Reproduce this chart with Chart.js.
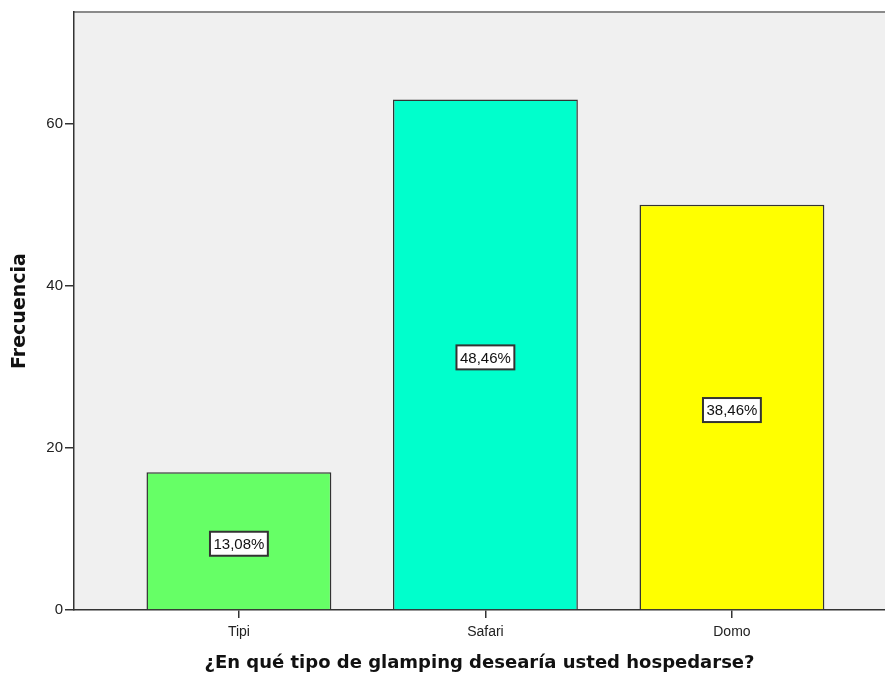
<!DOCTYPE html>
<html>
<head>
<meta charset="utf-8">
<script src="https://cdn.jsdelivr.net/npm/chart.js@4/dist/chart.umd.min.js"></script>
<style>
html,body{margin:0;padding:0;background:#fff;}
#wrap{width:885px;height:676px;}
</style>
</head>
<body>
<div id="wrap"><canvas id="c" width="885" height="676"></canvas></div>
<script>
const categories = ["Tipi", "Safari", "Domo"];
const values = [17, 63, 50];
const percentLabels = ["13,08%", "48,46%", "38,46%"];
const barColors = ["#66FF66", "#00FFCC", "#FFFF00"];
const yTicks = [0, 20, 40, 60];

const FONT = "'Liberation Sans', Arial, sans-serif";
const TITLE_FONT = "'DejaVu Sans', Verdana, sans-serif";

const bgPlugin = {
  id: 'bg',
  beforeDraw(chart) {
    const {ctx, chartArea: a} = chart;
    ctx.save();
    ctx.fillStyle = '#F0F0F0';
    ctx.fillRect(a.left, a.top, a.right - a.left, a.bottom - a.top);
    ctx.strokeStyle = '#8a8a8a';
    ctx.lineWidth = 2;
    ctx.beginPath();
    ctx.moveTo(a.left, a.top);
    ctx.lineTo(a.right, a.top);
    ctx.stroke();
    ctx.restore();
  }
};

const labelPlugin = {
  id: 'pctLabels',
  afterDatasetsDraw(chart) {
    const {ctx} = chart;
    const meta = chart.getDatasetMeta(0);
    ctx.save();
    ctx.font = "15px " + FONT;
    ctx.textAlign = 'center';
    ctx.textBaseline = 'middle';
    meta.data.forEach((bar, i) => {
      const txt = percentLabels[i];
      const cx = bar.x;
      const cy = (bar.y + bar.base) / 2 + 3;
      const w = ctx.measureText(txt).width + 7;
      const h = 24;
      ctx.fillStyle = '#ffffff';
      ctx.fillRect(cx - w / 2, cy - h / 2, w, h);
      ctx.strokeStyle = '#333';
      ctx.lineWidth = 2;
      ctx.strokeRect(cx - w / 2, cy - h / 2, w, h);
      ctx.fillStyle = '#111';
      ctx.fillText(txt, cx, cy + 1);
    });
    ctx.restore();
  }
};

new Chart(document.getElementById('c'), {
  type: 'bar',
  data: {
    datasets: [{
      data: values.map((v, i) => ({x: i, y: v})),
      backgroundColor: barColors,
      borderColor: '#333',
      borderWidth: 1.5,
      borderSkipped: 'bottom',
      barPercentage: 0.75,
      categoryPercentage: 1.0
    }]
  },
  options: {
    responsive: false,
    animation: false,
    devicePixelRatio: 1,
    layout: {padding: {top: 12, right: 0, left: 0, bottom: 0}},
    plugins: {legend: {display: false}, tooltip: {enabled: false}},
    scales: {
      x: {
        type: 'linear',
        offset: false,
        min: -0.669,
        max: 2.621,
        afterBuildTicks(scale) { scale.ticks = categories.map((c, i) => ({value: i})); },
        afterFit(scale) { scale.height = 66; },
        ticks: {
          callback: (v) => categories[v] ?? '',
          color: '#222',
          font: {family: FONT, size: 14},
          padding: 6,
          maxRotation: 0
        },
        grid: {offset: false, drawOnChartArea: false, drawTicks: true, tickLength: 8, color: '#333', lineWidth: 1.5},
        border: {display: true, color: '#333', width: 1.5},
        title: {
          display: true,
          text: '¿En qué tipo de glamping desearía usted hospedarse?',
          color: '#111',
          font: {family: TITLE_FONT, size: 18, weight: 'bold'},
          padding: {top: 6, bottom: 2}
        }
      },
      y: {
        min: 0,
        max: 73.8,
        afterBuildTicks(scale) { scale.ticks = yTicks.map(v => ({value: v})); },
        afterFit(scale) { scale.width = 74; },
        ticks: {
          color: '#222',
          font: {family: FONT, size: 15},
          padding: 2
        },
        grid: {drawOnChartArea: false, drawTicks: true, tickLength: 9, color: '#333', lineWidth: 1.5},
        border: {display: true, color: '#333', width: 1.5},
        title: {
          display: true,
          text: 'Frecuencia',
          color: '#111',
          font: {family: TITLE_FONT, size: 19, weight: 'bold'},
          padding: {top: 9, bottom: 0}
        }
      }
    }
  },
  plugins: [bgPlugin, labelPlugin]
});
</script>
</body>
</html>
